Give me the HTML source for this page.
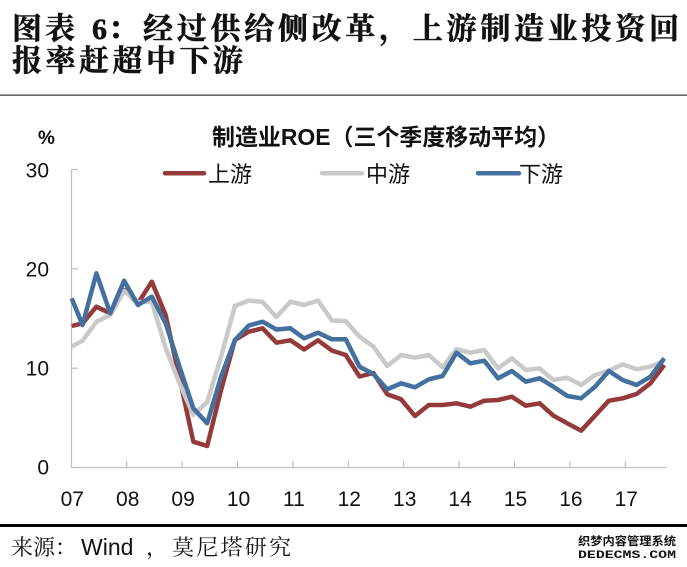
<!DOCTYPE html>
<html>
<head>
<meta charset="utf-8">
<style>
  html,body{margin:0;padding:0;background:#fff;}
  body{width:687px;height:567px;overflow:hidden;}
  svg{display:block;}
</style>
</head>
<body>
<svg width="687" height="567" viewBox="0 0 687 567" xmlns="http://www.w3.org/2000/svg">
  <rect x="0" y="0" width="687" height="567" fill="#fff"/>

  <!-- Title -->
  <g font-family="'Liberation Serif','Noto Serif CJK SC',serif" font-weight="bold" fill="#111" stroke="#111" stroke-width="0.5">
    <text x="12" y="39" font-size="30" textLength="63" lengthAdjust="spacing">图表</text>
    <text x="92" y="39" font-size="30">6</text>
    <text x="108" y="39" font-size="30">：</text>
    <text x="143" y="39" font-size="30" textLength="536" lengthAdjust="spacing">经过供给侧改革，上游制造业投资回</text>
    <text x="12" y="71" font-size="30" textLength="231" lengthAdjust="spacing">报率赶超中下游</text>
  </g>
  <rect x="0" y="94.5" width="687" height="1.3" fill="#444"/>

  <!-- Chart title -->
  <text x="212" y="145" font-family="'Liberation Sans','Noto Sans CJK SC',sans-serif" font-weight="bold" font-size="23" textLength="348" lengthAdjust="spacingAndGlyphs" fill="#111">制造业ROE（三个季度移动平均）</text>
  <text x="38" y="144" font-family="'Liberation Sans',sans-serif" font-weight="bold" font-size="19" fill="#111">%</text>

  <!-- Legend -->
  <g stroke-width="4.5" stroke-linecap="round">
    <line x1="165" y1="173.3" x2="204" y2="173.3" stroke="#953a3a"/>
    <line x1="322" y1="173.3" x2="362" y2="173.3" stroke="#c9c9c9"/>
    <line x1="478" y1="173.3" x2="519" y2="173.3" stroke="#44709f"/>
  </g>
  <g font-family="'Liberation Sans','Noto Sans CJK SC',sans-serif" font-size="22" fill="#111">
    <text x="208" y="182">上游</text>
    <text x="366" y="182">中游</text>
    <text x="519" y="182">下游</text>
  </g>

  <!-- Y axis labels -->
  <g font-family="'Liberation Sans',sans-serif" font-size="21" fill="#111" text-anchor="end">
    <text x="49" y="177.5">30</text>
    <text x="49" y="276.5">20</text>
    <text x="49" y="375.5">10</text>
    <text x="49" y="474.5">0</text>
  </g>

  <!-- Axes -->
  <g stroke="#bfbfbf" stroke-width="1.2" fill="none">
    <line x1="71.5" y1="169.5" x2="71.5" y2="468"/>
    <line x1="71.5" y1="467.5" x2="667" y2="467.5"/>
    <line x1="71.5" y1="169.5" x2="78" y2="169.5"/>
    <line x1="71.5" y1="268.8" x2="78" y2="268.8"/>
    <line x1="71.5" y1="368.2" x2="78" y2="368.2"/>
    <line x1="126.7" y1="461" x2="126.7" y2="467.5"/>
    <line x1="182.1" y1="461" x2="182.1" y2="467.5"/>
    <line x1="237.5" y1="461" x2="237.5" y2="467.5"/>
    <line x1="292.9" y1="461" x2="292.9" y2="467.5"/>
    <line x1="348.3" y1="461" x2="348.3" y2="467.5"/>
    <line x1="403.7" y1="461" x2="403.7" y2="467.5"/>
    <line x1="459.1" y1="461" x2="459.1" y2="467.5"/>
    <line x1="514.5" y1="461" x2="514.5" y2="467.5"/>
    <line x1="569.9" y1="461" x2="569.9" y2="467.5"/>
    <line x1="625.3" y1="461" x2="625.3" y2="467.5"/>
  </g>

  <!-- X labels -->
  <g font-family="'Liberation Sans',sans-serif" font-size="21" fill="#111" text-anchor="middle">
    <text x="72.3" y="506">07</text>
    <text x="127.7" y="506">08</text>
    <text x="183.1" y="506">09</text>
    <text x="238.5" y="506">10</text>
    <text x="293.9" y="506">11</text>
    <text x="349.3" y="506">12</text>
    <text x="404.7" y="506">13</text>
    <text x="460.1" y="506">14</text>
    <text x="515.5" y="506">15</text>
    <text x="570.9" y="506">16</text>
    <text x="626.3" y="506">17</text>
  </g>

  <!-- Series -->
  <g fill="none" stroke-width="4.5" stroke-linejoin="round" stroke-linecap="butt">
    <polyline stroke="#953a3a" points="71.7,326 82.55,323.3 96.4,306.7 110.25,313.3 124.1,290 137.95,303.3 151.8,281.7 165.65,315 179.5,378 193.35,441.7 207.2,446 221.05,390 234.9,340 248.75,331.7 262.6,328.3 276.45,342.7 290.3,340.3 304.15,349.5 318,340.3 331.85,350.5 345.7,355 359.55,376.5 373.4,373 387.25,394.3 401.1,399.3 414.95,416 428.8,405 442.65,405 456.5,403.3 470.35,406.7 484.2,400.7 498.05,400 511.9,396.7 525.75,405.7 539.6,403.3 553.45,415.7 567.3,423.3 581.15,430.7 595,415.7 608.85,400.7 622.7,398.3 636.55,394 650.4,383.3 664.25,365"/>
    <polyline stroke="#c9c9c9" points="71.7,346.7 82.55,340.7 96.4,321.7 110.25,315 124.1,291 137.95,302 151.8,302 165.65,348 179.5,383.3 193.35,415 207.2,402 221.05,356.7 234.9,306 248.75,300.5 262.6,302 276.45,317 290.3,301.7 304.15,305 318,300.5 331.85,320.5 345.7,321 359.55,336.7 373.4,346.5 387.25,366 401.1,355 414.95,357.7 428.8,355 442.65,367.3 456.5,349.3 470.35,352.7 484.2,350 498.05,368.3 511.9,358.3 525.75,370 539.6,368.3 553.45,380 567.3,377.7 581.15,385 595,375 608.85,370.7 622.7,364.3 636.55,369.3 650.4,366.7 664.25,360.7"/>
    <polyline stroke="#44709f" points="71.7,298.3 82.55,325 96.4,273.3 110.25,313.3 124.1,280.7 137.95,305 151.8,296.7 165.65,323.3 179.5,366.7 193.35,408.3 207.2,423.3 221.05,376.7 234.9,340 248.75,325.5 262.6,321.7 276.45,329.5 290.3,328.3 304.15,338.3 318,332.7 331.85,339.3 345.7,339.3 359.55,366.7 373.4,374 387.25,389.3 401.1,383.3 414.95,387.3 428.8,379.3 442.65,376 456.5,352.7 470.35,363.3 484.2,360.7 498.05,378.3 511.9,371 525.75,381.7 539.6,378.3 553.45,386.7 567.3,396 581.15,398.3 595,386.7 608.85,371 622.7,380 636.55,385 650.4,376.7 664.25,358.3"/>
  </g>

  <!-- Bottom rule -->
  <rect x="0" y="524" width="687" height="3" fill="#000"/>

  <!-- Source -->
  <g fill="#111">
    <text x="11" y="555" font-family="'Noto Serif CJK SC',serif" font-size="22" textLength="66" lengthAdjust="spacing">来源：</text>
    <text x="81" y="555" font-family="'Liberation Sans',sans-serif" font-size="23">Wind</text>
    <text x="146" y="555" font-family="'Noto Serif CJK SC',serif" font-size="22">，</text>
    <text x="172" y="555" font-family="'Noto Serif CJK SC',serif" font-size="22" textLength="119" lengthAdjust="spacing">莫尼塔研究</text>
  </g>

  <!-- Watermark -->
  <g fill="#111" font-weight="bold">
    <text x="578" y="545" font-family="'Noto Sans CJK SC',sans-serif" font-size="11.5" textLength="98" lengthAdjust="spacingAndGlyphs">织梦内容管理系统</text>
    <text x="578" y="558" font-family="'Liberation Mono',monospace" font-size="11" textLength="98" lengthAdjust="spacingAndGlyphs">DEDECMS.COM</text>
  </g>
</svg>
</body>
</html>
